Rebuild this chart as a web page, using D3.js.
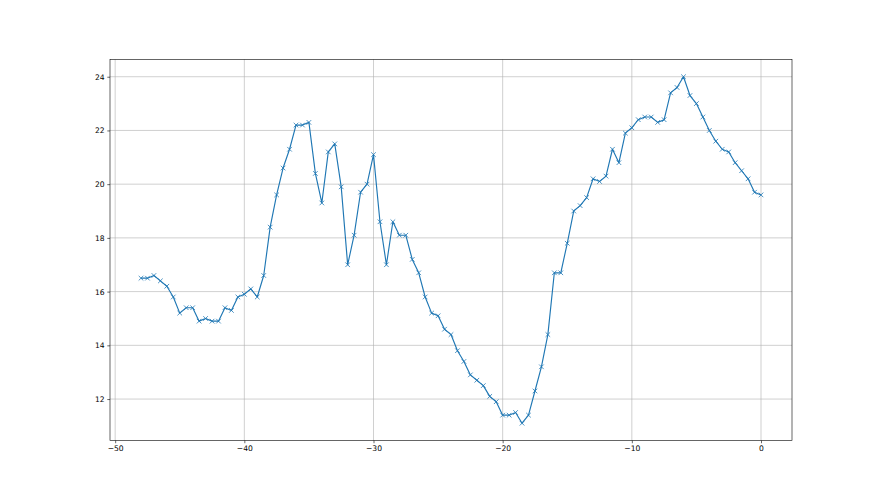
<!DOCTYPE html>
<html>
<head>
<meta charset="utf-8">
<script src="https://cdn.jsdelivr.net/npm/d3@7"></script>
<style>
  body { margin: 0; background: #fff; }
  svg { display: block; font-family: "DejaVu Sans", sans-serif; }
</style>
</head>
<body>
<div id="chart"></div>
<script>
// sample positions
const xValues = [
  -48, -47.5, -47, -46.5, -46, -45.5, -45, -44.5, -44, -43.5,
  -43, -42.5, -42, -41.5, -41, -40.5, -40, -39.5, -39, -38.5,
  -38, -37.5, -37, -36.5, -36, -35.5, -35, -34.5, -34, -33.5,
  -33, -32.5, -32, -31.5, -31, -30.5, -30, -29.5, -29, -28.5,
  -28, -27.5, -27, -26.5, -26, -25.5, -25, -24.5, -24, -23.5,
  -23, -22.5, -22, -21.5, -21, -20.5, -20, -19.5, -19, -18.5,
  -18, -17.5, -17, -16.5, -16, -15.5, -15, -14.5, -14, -13.5,
  -13, -12.5, -12, -11.5, -11, -10.5, -10, -9.5, -9, -8.5,
  -8, -7.5, -7, -6.5, -6, -5.5, -5, -4.5, -4, -3.5,
  -3, -2.5, -2, -1.5, -1, -0.5, 0
];

// series values
const yValues = [
  16.5, 16.5, 16.6, 16.4, 16.2, 15.8, 15.2, 15.4, 15.4, 14.9,
  15.0, 14.9, 14.9, 15.4, 15.3, 15.8, 15.9, 16.1, 15.8, 16.6,
  18.4, 19.6, 20.6, 21.3, 22.2, 22.2, 22.3, 20.4, 19.3, 21.2,
  21.5, 19.9, 17.0, 18.1, 19.7, 20.0, 21.1, 18.6, 17.0, 18.6,
  18.1, 18.1, 17.2, 16.7, 15.8, 15.2, 15.1, 14.6, 14.4, 13.8,
  13.4, 12.9, 12.7, 12.5, 12.1, 11.9, 11.4, 11.4, 11.5, 11.1,
  11.4, 12.3, 13.2, 14.4, 16.7, 16.7, 17.8, 19.0, 19.2, 19.5,
  20.2, 20.1, 20.3, 21.3, 20.8, 21.9, 22.1, 22.4, 22.5, 22.5,
  22.3, 22.4, 23.4, 23.6, 24.0, 23.3, 23.0, 22.5, 22.0, 21.6,
  21.3, 21.2, 20.8, 20.5, 20.2, 19.7, 19.6
];

const xTicks = [-50, -40, -30, -20, -10, 0];
const yTicks = [12, 14, 16, 18, 20, 22, 24];

const width = 880;
const height = 495;
const margin = { top: 59.4, right: 88, bottom: 54.45, left: 110 };

const data = xValues.map((x, i) => ({ x, y: yValues[i] }));

// matplotlib style 5% padding
const xExt = d3.extent(xValues);
const yExt = d3.extent(yValues);
const xPad = (xExt[1] - xExt[0]) * 0.05;
const yPad = (yExt[1] - yExt[0]) * 0.05;

const x = d3.scaleLinear()
  .domain([xExt[0] - xPad, xExt[1] + xPad])
  .range([margin.left, width - margin.right]);

const y = d3.scaleLinear()
  .domain([yExt[0] - yPad, yExt[1] + yPad])
  .range([height - margin.bottom, margin.top]);

const svg = d3.select('#chart')
  .append('svg')
  .attr('width', width)
  .attr('height', height)
  .attr('viewBox', `0 0 ${width} ${height}`);

const fmt = (d) => String(d).replace('-', '\u2212');

// grid
svg.append('g')
  .selectAll('line')
  .data(xTicks)
  .join('line')
  .attr('x1', (d) => x(d))
  .attr('x2', (d) => x(d))
  .attr('y1', margin.top)
  .attr('y2', height - margin.bottom)
  .attr('stroke', '#b0b0b0')
  .attr('stroke-width', 0.6);

svg.append('g')
  .selectAll('line')
  .data(yTicks)
  .join('line')
  .attr('x1', margin.left)
  .attr('x2', width - margin.right)
  .attr('y1', (d) => y(d))
  .attr('y2', (d) => y(d))
  .attr('stroke', '#b0b0b0')
  .attr('stroke-width', 0.6);

// axes
const xAxis = svg.append('g')
  .attr('transform', `translate(0,${height - margin.bottom})`)
  .call(d3.axisBottom(x).tickValues(xTicks).tickFormat(fmt).tickSizeOuter(0).tickSize(2.7).tickPadding(2.7));

const yAxis = svg.append('g')
  .attr('transform', `translate(${margin.left},0)`)
  .call(d3.axisLeft(y).tickValues(yTicks).tickFormat(fmt).tickSizeOuter(0).tickSize(2.7).tickPadding(2.7));

[xAxis, yAxis].forEach((g) => {
  g.select('.domain').remove();
  g.selectAll('.tick line').attr('stroke', '#000').attr('stroke-width', 0.6);
  g.selectAll('.tick text')
    .attr('fill', '#000')
    .style('font-size', '7.6px')
    .style('font-family', '"DejaVu Sans", sans-serif');
});

// line
const line = d3.line()
  .x((d) => x(d.x))
  .y((d) => y(d.y));

svg.append('path')
  .datum(data)
  .attr('fill', 'none')
  .attr('stroke', '#1f77b4')
  .attr('stroke-width', 1.15)
  .attr('stroke-linejoin', 'round')
  .attr('d', line);

// x markers
const m = 2.3;
svg.append('g')
  .selectAll('path')
  .data(data)
  .join('path')
  .attr('d', (d) => {
    const cx = x(d.x), cy = y(d.y);
    return `M${cx - m},${cy - m}L${cx + m},${cy + m}M${cx - m},${cy + m}L${cx + m},${cy - m}`;
  })
  .attr('stroke', '#1f77b4')
  .attr('stroke-width', 0.8)
  .attr('fill', 'none');

// spines
svg.append('rect')
  .attr('x', margin.left)
  .attr('y', margin.top)
  .attr('width', width - margin.left - margin.right)
  .attr('height', height - margin.top - margin.bottom)
  .attr('fill', 'none')
  .attr('stroke', '#000')
  .attr('stroke-width', 0.6);
</script>
</body>
</html>
